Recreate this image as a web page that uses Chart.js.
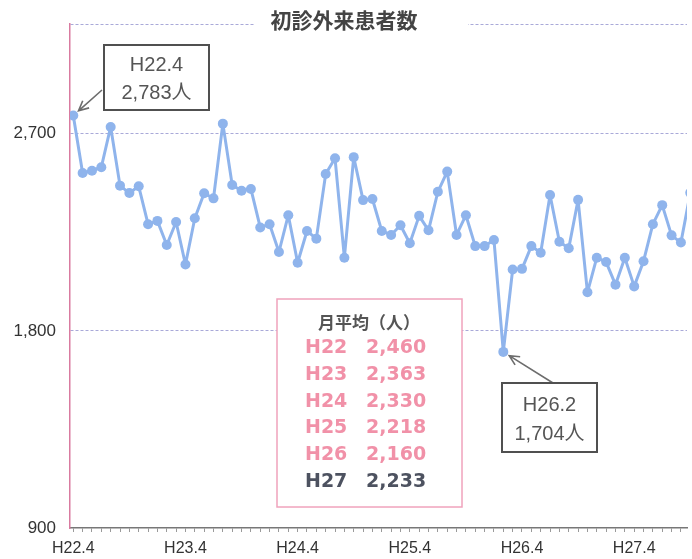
<!DOCTYPE html>
<html lang="ja">
<head>
<meta charset="utf-8">
<title>初診外来患者数</title>
<script src="https://cdn.jsdelivr.net/npm/chart.js@4.4.1/dist/chart.umd.min.js"></script>
<style>
    html, body { margin: 0; padding: 0; background: #fff; }
    #wrap { width: 692px; height: 559px; }
</style>
</head>
<body>
<div id="wrap"><canvas id="chart" width="692" height="559"></canvas></div>
<script>
// Chart data
const chartTitle = '初診外来患者数';
const tickLabels = ['H22.4', 'H23.4', 'H24.4', 'H25.4', 'H26.4', 'H27.4'];
const yTicks = [900, 1800, 2700];
const yMax = 3200;

// monthly new outpatients, H22.4 ... H27.10
const patients = [
    2783, 2521, 2531, 2547, 2731, 2463, 2429, 2460, 2287, 2302, 2192, 2297,
    2103, 2314, 2428, 2405, 2746, 2466, 2440, 2448, 2272, 2287, 2160, 2328,
    2111, 2256, 2221, 2516, 2588, 2134, 2593, 2397, 2402, 2256, 2238, 2282,
    2200, 2325, 2259, 2435, 2527, 2238, 2328, 2187, 2187, 2215, 1704, 2080,
    2083, 2187, 2157, 2420, 2207, 2177, 2398, 1976, 2134, 2114, 2011, 2134,
    2003, 2118, 2287, 2374, 2236, 2203, 2430
];

// yearly monthly averages shown in the box
const avgYears = ['H22', 'H23', 'H24', 'H25', 'H26', 'H27'];
const avgValues = [2460, 2363, 2330, 2218, 2160, 2233];

const lineBlue = '#8fb4ec';
const fmt = v => v.toLocaleString('en-US');

// index 0 = H22.4
function monthName(i) {
    const year = 22 + Math.floor((i + 3) / 12);
    const month = (i + 3) % 12 + 1;
    return 'H' + year + '.' + month;
}

function drawArrow(ctx, fromX, fromY, toX, toY) {
    const ang = Math.atan2(toY - fromY, toX - fromX);
    ctx.beginPath();
    ctx.moveTo(fromX, fromY);
    ctx.lineTo(toX, toY);
    ctx.moveTo(toX - 11 * Math.cos(ang - 0.45), toY - 11 * Math.sin(ang - 0.45));
    ctx.lineTo(toX, toY);
    ctx.lineTo(toX - 11 * Math.cos(ang + 0.45), toY - 11 * Math.sin(ang + 0.45));
    ctx.stroke();
}

function callout(chart, index, box, tail) {
    const ctx = chart.ctx;
    const px = chart.scales.x.getPixelForValue(index);
    const py = chart.scales.y.getPixelForValue(patients[index]);
    const d = Math.hypot(tail[0] - px, tail[1] - py);
    const tipX = px + (tail[0] - px) / d * 7;
    const tipY = py + (tail[1] - py) / d * 7;

    ctx.strokeStyle = '#6d6d6d';
    ctx.lineWidth = 1.6;
    drawArrow(ctx, tail[0], tail[1], tipX, tipY);

    ctx.fillStyle = '#fff';
    ctx.fillRect(box.x, box.y, box.w, box.h);
    ctx.strokeStyle = '#505050';
    ctx.lineWidth = 2;
    ctx.strokeRect(box.x, box.y, box.w, box.h);

    ctx.fillStyle = '#555';
    ctx.font = '20px "Liberation Sans", "Noto Sans CJK JP", sans-serif';
    ctx.textAlign = 'center';
    ctx.textBaseline = 'middle';
    const cx = box.x + box.w / 2;
    ctx.fillText(monthName(index), cx, box.y + box.h * 0.32);
    ctx.fillText(fmt(patients[index]) + '人', cx, box.y + box.h * 0.74);
}

const overlay = {
    id: 'overlay',
    afterDraw(chart) {
        const ctx = chart.ctx;
        ctx.save();

        // title sitting on the top border
        ctx.fillStyle = '#fff';
        ctx.fillRect(254, 6, 214, 30);
        ctx.fillStyle = '#444';
        ctx.font = 'bold 21px "Noto Sans CJK JP", sans-serif';
        ctx.textAlign = 'center';
        ctx.textBaseline = 'middle';
        ctx.fillText(chartTitle, 344, 20);

        // first month and lowest month
        callout(chart, 0, {x: 104, y: 45, w: 105, h: 65}, [102, 90]);
        const low = patients.indexOf(Math.min(...patients));
        callout(chart, low, {x: 502, y: 383, w: 95, h: 69}, [553, 383]);

        // monthly average box
        ctx.fillStyle = '#fff';
        ctx.fillRect(277, 299, 185, 208);
        ctx.strokeStyle = '#f0a3bc';
        ctx.lineWidth = 1.5;
        ctx.strokeRect(277, 299, 185, 208);

        ctx.fillStyle = '#555';
        ctx.font = 'bold 17px "Noto Sans CJK JP", sans-serif';
        ctx.textAlign = 'center';
        ctx.fillText('月平均（人）', 369, 323);

        ctx.font = 'bold 19px "DejaVu Sans", sans-serif';
        ctx.textAlign = 'left';
        avgYears.forEach((yr, i) => {
            ctx.fillStyle = i < avgYears.length - 1 ? '#f191a8' : '#4d5260';
            const y = 348 + i * 26.8;
            ctx.fillText(yr, 305, y);
            ctx.fillText(fmt(avgValues[i]), 366, y);
        });

        ctx.restore();
    }
};

new Chart(document.getElementById('chart'), {
    type: 'line',
    data: {
        datasets: [{
            data: patients.map((v, i) => ({x: i, y: v})),
            borderColor: lineBlue,
            backgroundColor: lineBlue,
            borderWidth: 3,
            borderJoinStyle: 'round',
            pointRadius: 5,
            pointBorderWidth: 0,
            pointBackgroundColor: lineBlue,
            tension: 0
        }]
    },
    options: {
        responsive: false,
        animation: false,
        layout: { padding: { top: 24, right: 0, left: 0, bottom: 0 } },
        plugins: {
            legend: { display: false },
            tooltip: { enabled: false }
        },
        scales: {
            x: {
                type: 'linear',
                bounds: 'data',
                min: -0.35,
                max: 65.65,
                afterFit: s => { s.height = 31; },
                // one tick per month
                afterBuildTicks: s => {
                    s.ticks = patients.map((v, i) => ({value: i})).filter(t => t.value <= s.max);
                },
                grid: {
                    drawOnChartArea: false,
                    tickLength: 4,
                    tickColor: '#9a9a9a'
                },
                border: { color: '#777', width: 1.5 },
                ticks: {
                    autoSkip: false,
                    maxRotation: 0,
                    minRotation: 0,
                    padding: 7,
                    color: '#333',
                    font: { family: '"Liberation Sans Narrow", "Liberation Sans", sans-serif', size: 16 },
                    callback: v => (v % 12 === 0 && tickLabels[v / 12]) ? tickLabels[v / 12] : ''
                }
            },
            y: {
                min: yTicks[0],
                max: yMax,
                afterFit: s => { s.width = 70; },
                afterBuildTicks: s => { s.ticks = yTicks.concat([yMax]).map(v => ({value: v})); },
                grid: {
                    drawTicks: false,
                    color: c => c.tick && c.tick.value === yTicks[0] ? 'rgba(0,0,0,0)' : '#a9a9d8',
                    lineWidth: 1
                },
                border: { color: '#d97ba0', width: 1.5, dash: [3, 2] },
                ticks: {
                    padding: 14,
                    color: '#333',
                    font: { family: '"Liberation Sans", sans-serif', size: 17 },
                    callback: v => yTicks.includes(v) ? fmt(v) : ''
                }
            }
        }
    },
    plugins: [overlay]
});
</script>
</body>
</html>
